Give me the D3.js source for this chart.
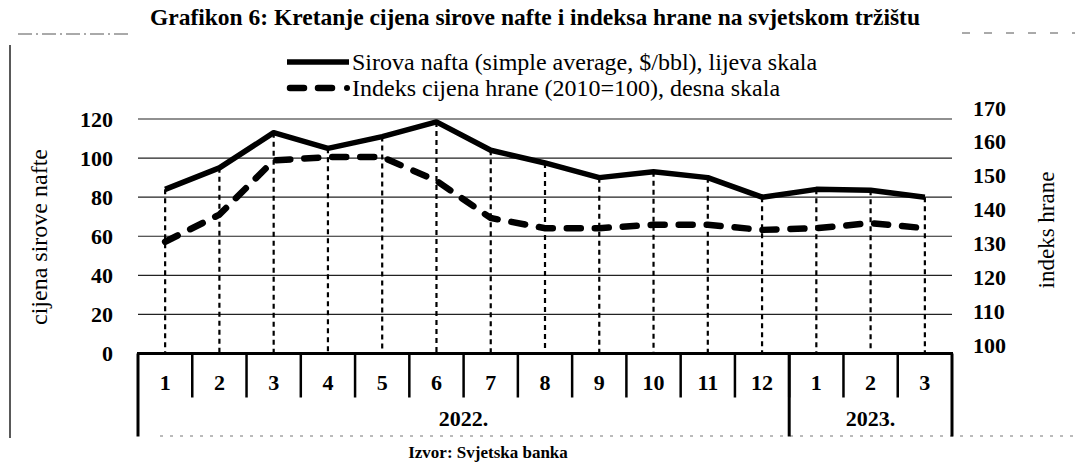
<!DOCTYPE html>
<html>
<head>
<meta charset="utf-8">
<script src="https://cdn.jsdelivr.net/npm/d3@7"></script>
<style>
  body { margin: 0; background: #fff; }
  text { font-family: "Liberation Serif", "Times New Roman", serif; fill: #000; }
</style>
</head>
<body>
<div class="chart"></div>
<script>
// months on the category axis, grouped by year
let months = ["1","2","3","4","5","6","7","8","9","10","11","12","1","2","3"];
let yearLabels = ["2022.", "2023."];
let yearMonths = [12, 3];

// crude oil, simple average $/bbl (left scale)
let oil = [84, 95, 113, 105, 111, 118.5, 104, 97.5, 90, 93, 90, 80, 84, 83.5, 80];
// food price index 2010=100 (right scale)
let food = [130.5, 138.5, 154.5, 155.5, 155.5, 148.5, 137.5, 134.5, 134.5, 135.5, 135.5, 134, 134.5, 136, 134.5];

let leftTicks = [0, 20, 40, 60, 80, 100, 120];
let rightTicks = [100, 110, 120, 130, 140, 150, 160, 170];

let W = 1075, H = 463;
let margin = {top: 119, right: 123, bottom: 109, left: 138};

let svg = d3.select(".chart").append("svg")
    .attr("width", W)
    .attr("height", H);

let idx = months.map((m, i) => i);

let x = d3.scaleBand()
    .domain(idx)
    .range([margin.left, W - margin.right]);

let yL = d3.scaleLinear()
    .domain([0, 120])
    .range([H - margin.bottom - 0.5, margin.top]);

// right scale labels sit a bit higher in the source
let yR = d3.scaleLinear()
    .domain([100, 170])
    .range([345, 108]);

let cx = i => x(i) + x.bandwidth() / 2;

// frame remains (scan)
svg.append("line").attr("x1", 10).attr("x2", 10).attr("y1", 45).attr("y2", 438)
    .attr("stroke", "#222").attr("stroke-width", 1.5);
svg.append("line").attr("x1", 18).attr("x2", 130).attr("y1", 34).attr("y2", 34)
    .attr("stroke", "#555").attr("stroke-width", 1).attr("stroke-dasharray", "14,4,2,4");
svg.append("line").attr("x1", 962).attr("x2", 1075).attr("y1", 33).attr("y2", 33)
    .attr("stroke", "#555").attr("stroke-width", 1).attr("stroke-dasharray", "8,14");
svg.append("line").attr("x1", 160).attr("x2", 1075).attr("y1", 436).attr("y2", 436)
    .attr("stroke", "#777").attr("stroke-width", 1).attr("stroke-dasharray", "3,7");

// title
svg.append("text")
    .attr("x", 535).attr("y", 25)
    .attr("text-anchor", "middle")
    .attr("font-size", 23.5).attr("font-weight", "bold")
    .text("Grafikon 6: Kretanje cijena sirove nafte i indeksa hrane na svjetskom tržištu");

// legend
let lg = svg.append("g");
lg.append("line").attr("x1", 287).attr("x2", 349).attr("y1", 62).attr("y2", 62)
    .attr("stroke", "#000").attr("stroke-width", 5.5);
lg.append("text").attr("x", 352).attr("y", 70).attr("font-size", 24)
    .text("Sirova nafta (simple average, $/bbl), lijeva skala");
lg.append("line").attr("x1", 290).attr("x2", 338).attr("y1", 88).attr("y2", 88)
    .attr("stroke", "#000").attr("stroke-width", 6.5)
    .attr("stroke-linecap", "round").attr("stroke-dasharray", "14,14");
lg.append("circle").attr("cx", 347).attr("cy", 88).attr("r", 3).attr("fill", "#000");
lg.append("text").attr("x", 352).attr("y", 96).attr("font-size", 24)
    .text("Indeks cijena hrane (2010=100), desna skala");

// gridlines
svg.append("g")
    .selectAll("line")
    .data(leftTicks.slice(1))
    .enter().append("line")
    .attr("x1", margin.left).attr("x2", W - margin.right)
    .attr("y1", d => yL(d)).attr("y2", d => yL(d))
    .attr("stroke", "#222").attr("stroke-width", 1.2);

// left axis labels
let axL = svg.append("g")
    .attr("transform", "translate(" + (margin.left - 25) + ",0)")
    .call(d3.axisLeft(yL).tickValues(leftTicks).tickSize(0).tickPadding(0));
axL.select(".domain").remove();
axL.selectAll("text").attr("font-size", 22).attr("font-weight", "bold")
    .attr("font-family", "Liberation Serif");

// right axis labels
let axR = svg.append("g")
    .attr("transform", "translate(973,0)")
    .call(d3.axisRight(yR).tickValues(rightTicks).tickSize(0).tickPadding(0));
axR.select(".domain").remove();
axR.selectAll("text").attr("font-size", 22).attr("font-weight", "bold")
    .attr("font-family", "Liberation Serif");

// axis titles
svg.append("text")
    .attr("transform", "translate(47,237) rotate(-90)")
    .attr("text-anchor", "middle").attr("font-size", 24)
    .text("cijena sirove nafte");
svg.append("text")
    .attr("transform", "translate(1054,230) rotate(-90)")
    .attr("text-anchor", "middle").attr("font-size", 23)
    .text("indeks hrane");

// drop lines
svg.append("g")
    .selectAll("line")
    .data(idx)
    .enter().append("line")
    .attr("x1", d => cx(d)).attr("x2", d => cx(d))
    .attr("y1", d => yL(oil[d])).attr("y2", yL(0))
    .attr("stroke", "#000").attr("stroke-width", 2.2)
    .attr("stroke-dasharray", "5,4");

// food line (dashed)
svg.append("path")
    .datum(food)
    .attr("fill", "none")
    .attr("stroke", "#000").attr("stroke-width", 6.5)
    .attr("stroke-linecap", "round")
    .attr("stroke-dasharray", "14,14")
    .attr("d", d3.line().x((d, i) => cx(i)).y(d => yR(d)));

// oil line
svg.append("path")
    .datum(oil)
    .attr("fill", "none")
    .attr("stroke", "#000").attr("stroke-width", 5.5)
    .attr("stroke-linejoin", "round")
    .attr("d", d3.line().x((d, i) => cx(i)).y(d => yL(d)));

// category axis
let base = yL(0);
svg.append("line")
    .attr("x1", margin.left - 1).attr("x2", W - margin.right + 1)
    .attr("y1", base).attr("y2", base)
    .attr("stroke", "#000").attr("stroke-width", 3);

// month separators
svg.append("g")
    .selectAll("line")
    .data(idx.slice(1))
    .enter().append("line")
    .attr("x1", d => x(d)).attr("x2", d => x(d))
    .attr("y1", base).attr("y2", base + 44)
    .attr("stroke", "#000").attr("stroke-width", 2.5);

svg.append("g")
    .selectAll("text")
    .data(idx)
    .enter().append("text")
    .attr("x", d => cx(d)).attr("y", base + 36)
    .attr("text-anchor", "middle")
    .attr("font-size", 22).attr("font-weight", "bold")
    .text(d => months[d]);

// year groups
let starts = [];
let acc = 0;
yearMonths.forEach(n => { starts.push(acc); acc += n; });
let bounds = starts.concat([acc]).map(i => i < months.length ? x(i) : x(months.length - 1) + x.bandwidth());

svg.append("g")
    .selectAll("line")
    .data(bounds)
    .enter().append("line")
    .attr("x1", d => d).attr("x2", d => d)
    .attr("y1", base).attr("y2", base + 83)
    .attr("stroke", "#000").attr("stroke-width", 3);

svg.append("g")
    .selectAll("text")
    .data(yearLabels)
    .enter().append("text")
    .attr("x", (d, i) => (bounds[i] + bounds[i + 1]) / 2)
    .attr("y", base + 72)
    .attr("text-anchor", "middle")
    .attr("font-size", 22).attr("font-weight", "bold")
    .text(d => d);

// source
svg.append("text")
    .attr("x", 488).attr("y", 458)
    .attr("text-anchor", "middle")
    .attr("font-size", 17).attr("font-weight", "bold")
    .text("Izvor: Svjetska banka");
</script>
</body>
</html>
